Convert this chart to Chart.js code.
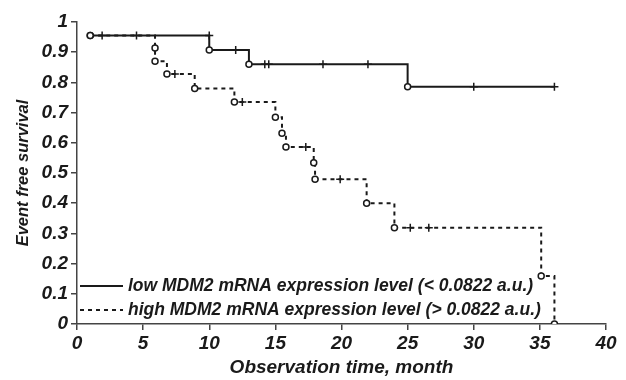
<!DOCTYPE html>
<html>
<head>
<meta charset="utf-8">
<script src="https://cdn.jsdelivr.net/npm/chart.js@4/dist/chart.umd.min.js"></script>
<style>
  html, body { margin: 0; padding: 0; background: #fff; }
</style>
</head>
<body>
<canvas id="chart" width="626" height="380"></canvas>
<script>
// low MDM2 group: time (months), survival, mark ('o' event, '+' censored)
const lowTimes = [1, 1.9, 4.5, 10, 10, 12, 13, 14.2, 14.5, 18.6, 22, 25, 30, 36.1];
const lowSurvival = [0.955, 0.955, 0.955, 0.955, 0.907, 0.907, 0.86, 0.86, 0.86, 0.86, 0.86, 0.786, 0.786, 0.786];
const lowMarks = ['o', '+', '+', '+', 'o', '+', 'o', '+', '+', '+', '+', 'o', '+', '+'];

// high MDM2 group
const highTimes = [1, 5.9, 5.9, 6.8, 7.4, 8.9, 11.9, 12.5, 15, 15.5, 15.8, 17.3, 17.9, 18, 19.9, 21.9, 24, 25.2, 26.6, 35.1, 36.1];
const highSurvival = [0.955, 0.914, 0.87, 0.828, 0.828, 0.78, 0.735, 0.735, 0.685, 0.632, 0.586, 0.586, 0.534, 0.479, 0.479, 0.40, 0.319, 0.319, 0.319, 0.159, 0];
const highMarks = ['o', 'o', 'o', 'o', '+', 'o', 'o', '+', 'o', 'o', 'o', '+', 'o', 'o', '+', 'o', 'o', '+', '+', 'o', 'o'];

const xTicks = [0, 5, 10, 15, 20, 25, 30, 35, 40];
const yTicks = [0, 0.1, 0.2, 0.3, 0.4, 0.5, 0.6, 0.7, 0.8, 0.9, 1];

const legendLabels = [
  'low MDM2 mRNA expression level (< 0.0822 a.u.)',
  'high MDM2 mRNA expression level (> 0.0822 a.u.)'
];

const fontFamily = "'Liberation Sans Narrow', 'Arial Narrow', 'Liberation Sans', sans-serif";
const ink = '#1a1a1a';

function toPoints(times, values) {
  return times.map((t, i) => ({ x: t, y: values[i] }));
}

function markStyle(marks) {
  return marks.map((m) => m === 'o' ? 'circle' : 'cross');
}

function markRadius(marks) {
  return marks.map((m) => m === 'o' ? 3 : 4);
}

// draws the legend inside the plot, bottom left
const insideLegend = {
  id: 'insideLegend',
  afterDatasetsDraw(chart) {
    const ctx = chart.ctx;
    const left = chart.chartArea.left;
    const rows = [286, 310];
    ctx.save();
    rows.forEach((y, i) => {
      ctx.strokeStyle = ink;
      ctx.lineWidth = 2;
      ctx.setLineDash(i === 0 ? [] : [4, 4]);
      ctx.beginPath();
      ctx.moveTo(left + 3, y);
      ctx.lineTo(left + 46, y);
      ctx.stroke();
      ctx.setLineDash([]);
      ctx.fillStyle = ink;
      ctx.font = 'italic bold 17.5px ' + fontFamily;
      ctx.textBaseline = 'middle';
      ctx.textAlign = 'left';
      ctx.fillText(legendLabels[i], left + 51, y);
    });
    ctx.restore();
  }
};

const ctx = document.getElementById('chart').getContext('2d');
new Chart(ctx, {
  type: 'scatter',
  data: {
    datasets: [{
      label: legendLabels[0],
      data: toPoints(lowTimes, lowSurvival),
      showLine: true,
      stepped: 'before',
      borderColor: ink,
      borderWidth: 2,
      pointStyle: markStyle(lowMarks),
      pointRadius: markRadius(lowMarks),
      pointBackgroundColor: '#fff',
      pointBorderColor: ink,
      pointBorderWidth: 1.5
    }, {
      label: legendLabels[1],
      data: toPoints(highTimes, highSurvival),
      showLine: true,
      stepped: 'before',
      borderColor: ink,
      borderWidth: 2,
      borderDash: [4, 4],
      pointStyle: markStyle(highMarks),
      pointRadius: markRadius(highMarks),
      pointBackgroundColor: '#fff',
      pointBorderColor: ink,
      pointBorderWidth: 1.5
    }]
  },
  options: {
    responsive: false,
    animation: false,
    layout: {
      padding: { top: 22, right: 20, left: 0, bottom: 0 }
    },
    plugins: {
      legend: { display: false },
      tooltip: { enabled: false }
    },
    scales: {
      x: {
        type: 'linear',
        min: 0,
        max: 40,
        afterFit: (scale) => { scale.height = 56; },
        afterBuildTicks: (scale) => { scale.ticks = xTicks.map((v) => ({ value: v })); },
        border: { display: true, color: '#444', width: 1.5 },
        grid: { display: true, drawOnChartArea: false, drawTicks: true, tickLength: 6, color: '#444', lineWidth: 1.5 },
        ticks: {
          color: ink,
          padding: 2,
          font: { family: fontFamily, size: 19, style: 'italic', weight: 'bold' }
        },
        title: {
          display: true,
          text: 'Observation time, month',
          color: ink,
          padding: { top: 0, bottom: 1 },
          font: { family: fontFamily, size: 19, style: 'italic', weight: 'bold' }
        }
      },
      y: {
        type: 'linear',
        min: 0,
        max: 1,
        afterFit: (scale) => { scale.width = 77; },
        afterBuildTicks: (scale) => { scale.ticks = yTicks.map((v) => ({ value: v })); },
        border: { display: true, color: '#444', width: 1.5 },
        grid: { display: true, drawOnChartArea: false, drawTicks: true, tickLength: 6, color: '#444', lineWidth: 1.5 },
        ticks: {
          color: ink,
          padding: 3,
          callback: (v) => String(Math.round(v * 10) / 10),
          font: { family: fontFamily, size: 19, style: 'italic', weight: 'bold' }
        },
        title: {
          display: true,
          text: 'Event free survival',
          color: ink,
          padding: { top: 14, bottom: 0 },
          font: { family: fontFamily, size: 16.5, style: 'italic', weight: 'bold' }
        }
      }
    }
  },
  plugins: [insideLegend]
});
</script>
</body>
</html>
